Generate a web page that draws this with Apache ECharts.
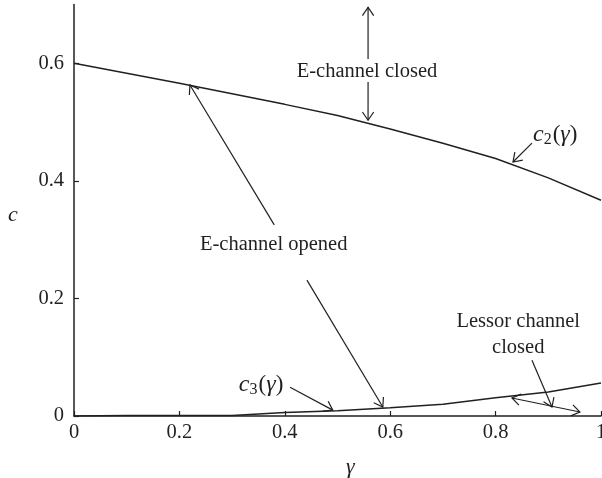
<!DOCTYPE html>
<html><head><meta charset="utf-8">
<script src="https://cdn.jsdelivr.net/npm/echarts@6/dist/echarts.min.js"></script>
<style>html,body{margin:0;padding:0;background:#fff}#c{width:602px;height:478px}</style>
</head><body><div id="c"></div>
<script>
const gamma = [0, 0.1, 0.2, 0.3, 0.4, 0.5, 0.6, 0.7, 0.8, 0.9, 1.0];
const c2 = [0.6, 0.583, 0.566, 0.548, 0.530, 0.511, 0.488, 0.464, 0.438, 0.405, 0.367];
const c3 = [0, 0.001, 0.001, 0.001, 0.006, 0.009, 0.014, 0.020, 0.031, 0.041, 0.056];
const xTicks = [0, 0.2, 0.4, 0.6, 0.8, 1];
const yTicks = [0, 0.2, 0.4, 0.6];

// annotation arrows in data coordinates: [x1, y1, x2, y2 (tip), doubleHeaded]
const arrows = [
  [0.558, 0.607, 0.558, 0.695, 0],
  [0.558, 0.568, 0.558, 0.503, 0],
  [0.869, 0.464, 0.833, 0.432, 0],
  [0.380, 0.325, 0.220, 0.563, 0],
  [0.442, 0.231, 0.586, 0.0153, 0],
  [0.410, 0.049, 0.491, 0.010, 0],
  [0.869, 0.095, 0.907, 0.0153, 0],
  [0.831, 0.0306, 0.960, 0.0068, 1]
];
// annotation labels in data coordinates
const notes = [
  {x: 0.556, y: 0.585, text: 'E-channel closed', align: 'center', math: false},
  {x: 0.871, y: 0.478, text: '{i|c}{s|2}{p|(}{i|γ}{p|)}', align: 'left', math: true},
  {x: 0.379, y: 0.291, text: 'E-channel opened', align: 'center', math: false},
  {x: 0.355, y: 0.053, text: '{i|c}{s|3}{p|(}{i|γ}{p|)}', align: 'center', math: true},
  {x: 0.843, y: 0.160, text: 'Lessor channel', align: 'center', math: false},
  {x: 0.843, y: 0.117, text: 'closed', align: 'center', math: false}
];

const FONT = '"Liberation Serif", "DejaVu Serif", serif';
const FS = 20.5;
const INK = '#231f20';

function headPts(tail, tip, len, ang) {
  const a = Math.atan2(tail[1] - tip[1], tail[0] - tip[0]);
  return [
    [tip[0] + len * Math.cos(a + ang), tip[1] + len * Math.sin(a + ang)],
    tip,
    [tip[0] + len * Math.cos(a - ang), tip[1] + len * Math.sin(a - ang)]
  ];
}

const chart = echarts.init(document.getElementById('c'));
chart.setOption({
  animation: false,
  backgroundColor: '#fff',
  grid: {left: 74, right: 1, top: 4.4, bottom: 62, containLabel: false, outerBoundsMode: 'none'},
  xAxis: {
    type: 'value', min: 0, max: 1, interval: 0.2,
    axisLine: {lineStyle: {color: INK, width: 1.5}},
    axisTick: {inside: true, length: 5, lineStyle: {color: INK, width: 1.2}, customValues: xTicks},
    axisLabel: {color: INK, fontFamily: FONT, fontSize: FS, margin: 6, customValues: xTicks,
      hideOverlap: false,
      formatter: v => (v === 0 || v === 1) ? String(v) : v.toFixed(1)},
    splitLine: {show: false}
  },
  yAxis: {
    type: 'value', min: 0, max: 0.7, interval: 0.2,
    axisLine: {show: true, lineStyle: {color: INK, width: 1.5}},
    axisTick: {show: true, inside: true, length: 5, lineStyle: {color: INK, width: 1.2}, customValues: yTicks},
    axisLabel: {color: INK, fontFamily: FONT, fontSize: FS, margin: 10, customValues: yTicks,
      formatter: v => v === 0 ? '0' : v.toFixed(1)},
    splitLine: {show: false}
  },
  graphic: [
    {type: 'text', left: 8, top: 204, style: {text: 'c', font: 'italic 22px ' + FONT, fill: INK}},
    {type: 'text', left: 346, top: 456, style: {text: 'γ', font: 'italic 22px ' + FONT, fill: INK}}
  ],
  series: [
    {type: 'line', data: gamma.map((g, i) => [g, c2[i]]), showSymbol: false,
      lineStyle: {color: INK, width: 1.5}},
    {type: 'line', data: gamma.map((g, i) => [g, c3[i]]), showSymbol: false,
      lineStyle: {color: INK, width: 1.5}},
    {type: 'custom', data: arrows, clip: false, silent: true,
      encode: {x: [0, 2], y: [1, 3]},
      renderItem: (params, api) => {
        const p1 = api.coord([api.value(0), api.value(1)]);
        const p2 = api.coord([api.value(2), api.value(3)]);
        const st = {stroke: INK, lineWidth: 1.2, fill: null};
        const children = [
          {type: 'line', shape: {x1: p1[0], y1: p1[1], x2: p2[0], y2: p2[1]}, style: st},
          {type: 'polyline', shape: {points: headPts(p1, p2, 10, 0.6)}, style: st}
        ];
        if (api.value(4)) children.push({type: 'polyline', shape: {points: headPts(p2, p1, 10, 0.6)}, style: st});
        return {type: 'group', children};
      }},
    {type: 'custom', data: notes.map(n => [n.x, n.y]), clip: false, silent: true,
      renderItem: (params, api) => {
        const n = notes[params.dataIndex];
        const p = api.coord([api.value(0), api.value(1)]);
        return {type: 'text', x: p[0], y: p[1], style: {
          text: n.text, align: n.align, verticalAlign: 'middle', fill: INK,
          font: FS + 'px ' + FONT,
          rich: {
            i: {fontStyle: 'italic', fontSize: 24, fontFamily: FONT, fill: INK},
            p: {fontSize: 23, fontFamily: FONT, fill: INK},
            s: {fontSize: 16, fontFamily: FONT, fill: INK, padding: [10, 1, 0, 0]}
          }
        }};
      }}
  ]
});
</script></body></html>
